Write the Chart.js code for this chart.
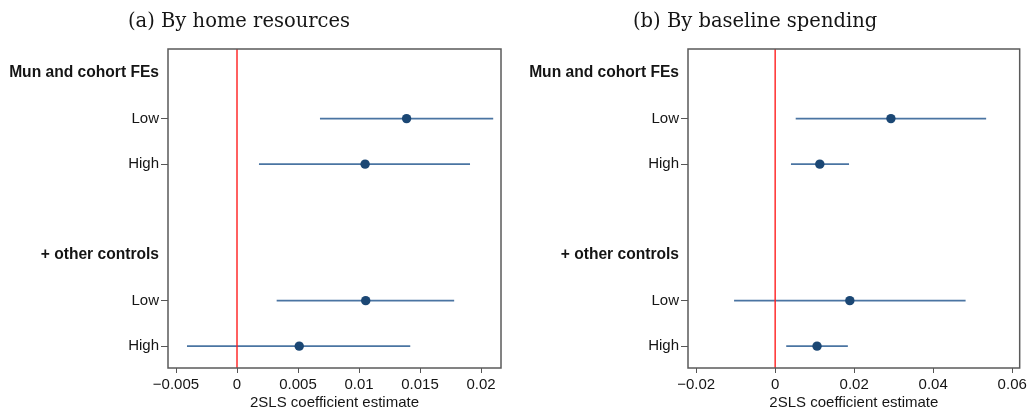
<!DOCTYPE html>
<html>
<head>
<meta charset="utf-8">
<script src="https://cdn.jsdelivr.net/npm/chart.js@4.4.1/dist/chart.umd.min.js"></script>
<style>
  html, body { margin: 0; padding: 0; background: #fff; }
  #wrap { position: relative; width: 1030px; height: 411px; }
  .panel { position: absolute; top: 0; width: 515px; height: 411px; }
  .ptitle { position: absolute; top: 9px; font-family: "DejaVu Serif", serif; font-size: 19.5px;
            line-height: 24px; color: #151515; white-space: nowrap; }
</style>
</head>
<body>
<div id="wrap">
  <div class="panel" style="left:0"><canvas id="ca" width="515" height="411"></canvas></div>
  <div class="panel" style="left:515px"><canvas id="cb" width="515" height="411"></canvas></div>
  <div class="ptitle" id="ta" style="left:128px"></div>
  <div class="ptitle" id="tb" style="left:633px"></div>
</div>
<script>
// ---- shared row structure ----
const rowLabels = ['Mun and cohort FEs', 'Low', 'High', '', '+ other controls', 'Low', 'High'];
const headerRows = [0, 4];
const estRows = [1, 2, 5, 6];
const zeroRef = 0;

// ---- panel (a): by home resources ----
const titleA = '(a) By home resources';
const estA = [0.0139, 0.0105, 0.01055, 0.0051];
const loA  = [0.0068, 0.0018, 0.00325, -0.0041];
const hiA  = [0.0210, 0.0191, 0.0178, 0.0142];
const tickValsA = [-0.005, 0, 0.005, 0.01, 0.015, 0.02];
const tickLblsA = ['\u22120.005', '0', '0.005', '0.01', '0.015', '0.02'];

// ---- panel (b): by baseline spending ----
const titleB = '(b) By baseline spending';
const estB = [0.0293, 0.0113, 0.0189, 0.0106];
const loB  = [0.0052, 0.0040, -0.0104, 0.0028];
const hiB  = [0.0534, 0.0187, 0.0482, 0.0184];
const tickValsB = [-0.02, 0, 0.02, 0.04, 0.06];
const tickLblsB = ['\u22120.02', '0', '0.02', '0.04', '0.06'];

const axisTitle = '2SLS coefficient estimate';

const POINT_COLOR = '#1b4774';
const LINE_COLOR = '#4a74a2';
const ZERO_COLOR = '#ff1f1f';
const FRAME_COLOR = '#5a5a5a';
const TEXT_COLOR = '#151515';

const Y_MIN = -0.53, Y_MAX = 6.48;

document.getElementById('ta').textContent = titleA;
document.getElementById('tb').textContent = titleB;

const framePlugin = {
  id: 'frame',
  afterDraw(chart) {
    const {ctx, chartArea: a} = chart;
    ctx.save();
    ctx.strokeStyle = FRAME_COLOR;
    ctx.lineWidth = 1.5;
    ctx.strokeRect(a.left, a.top, a.right - a.left, a.bottom - a.top);
    ctx.restore();
  }
};

function buildChart(canvasId, cfg) {
  const datasets = [];
  datasets.push({
    label: 'estimate',
    data: cfg.est.map((v, i) => ({x: v, y: estRows[i]})),
    pointRadius: 4.7,
    pointBackgroundColor: POINT_COLOR,
    pointBorderColor: POINT_COLOR,
    pointBorderWidth: 0,
    showLine: false
  });
  datasets.push({
    label: 'zero',
    data: [{x: zeroRef, y: Y_MIN}, {x: zeroRef, y: Y_MAX}],
    showLine: true,
    borderColor: ZERO_COLOR,
    borderWidth: 1.4,
    pointRadius: 0
  });
  cfg.est.forEach((v, i) => {
    datasets.push({
      label: 'ci' + i,
      data: [{x: cfg.lo[i], y: estRows[i]}, {x: cfg.hi[i], y: estRows[i]}],
      showLine: true,
      borderColor: LINE_COLOR,
      borderWidth: 1.9,
      pointRadius: 0
    });
  });

  return new Chart(document.getElementById(canvasId), {
    type: 'scatter',
    data: { datasets },
    plugins: [framePlugin],
    options: {
      responsive: false,
      animation: false,
      devicePixelRatio: 1,
      layout: { padding: { left: 0, right: cfg.padRight, top: 49, bottom: 0 } },
      plugins: {
        legend: { display: false },
        tooltip: { enabled: false },
        title: { display: false }
      },
      scales: {
        x: {
          type: 'linear',
          min: cfg.xMin,
          max: cfg.xMax,
          afterBuildTicks: (scale) => { scale.ticks = cfg.tickVals.map(v => ({value: v})); },
          afterFit: (scale) => { scale.height = 43; },
          border: { display: false },
          grid: {
            drawOnChartArea: false,
            drawTicks: true,
            tickLength: 5,
            tickColor: '#555',
            tickWidth: 1
          },
          ticks: {
            color: TEXT_COLOR,
            font: { family: '"Liberation Sans", Arial, sans-serif', size: 15 },
            padding: 3,
            maxRotation: 0,
            autoSkip: false,
            callback: (val) => {
              const k = cfg.tickVals.findIndex(t => Math.abs(t - val) < 1e-9);
              return k >= 0 ? cfg.tickLbls[k] : '';
            }
          },
          title: {
            display: true,
            text: axisTitle,
            color: TEXT_COLOR,
            font: { family: '"Liberation Sans", Arial, sans-serif', size: 15 },
            padding: { top: 0, bottom: -1 }
          }
        },
        y: {
          type: 'linear',
          reverse: true,
          min: Y_MIN,
          max: Y_MAX,
          afterBuildTicks: (scale) => { scale.ticks = rowLabels.map((_, i) => ({value: i})); },
          afterFit: (scale) => { scale.width = cfg.yWidth; },
          border: { display: false },
          grid: {
            drawOnChartArea: false,
            drawTicks: true,
            tickLength: 7,
            tickWidth: 1,
            tickColor: (ctx) => (ctx.tick && estRows.includes(ctx.tick.value)) ? '#555' : 'rgba(0,0,0,0)'
          },
          ticks: {
            color: TEXT_COLOR,
            padding: 2,
            autoSkip: false,
            font: (ctx) => {
              const hdr = ctx.tick && headerRows.includes(ctx.tick.value);
              return {
                family: '"Liberation Sans", Arial, sans-serif',
                size: hdr ? 15.6 : 15,
                weight: hdr ? 'bold' : 'normal'
              };
            },
            callback: (val) => rowLabels[Math.round(val)] || ''
          }
        }
      }
    }
  });
}

buildChart('ca', {
  est: estA, lo: loA, hi: hiA,
  tickVals: tickValsA, tickLbls: tickLblsA,
  xMin: -0.005656, xMax: 0.021639,
  padRight: 14, yWidth: 168
});
buildChart('cb', {
  est: estB, lo: loB, hi: hiB,
  tickVals: tickValsB, tickLbls: tickLblsB,
  xMin: -0.02206, xMax: 0.06189,
  padRight: 8.3, yWidth: 173
});
</script>
</body>
</html>
